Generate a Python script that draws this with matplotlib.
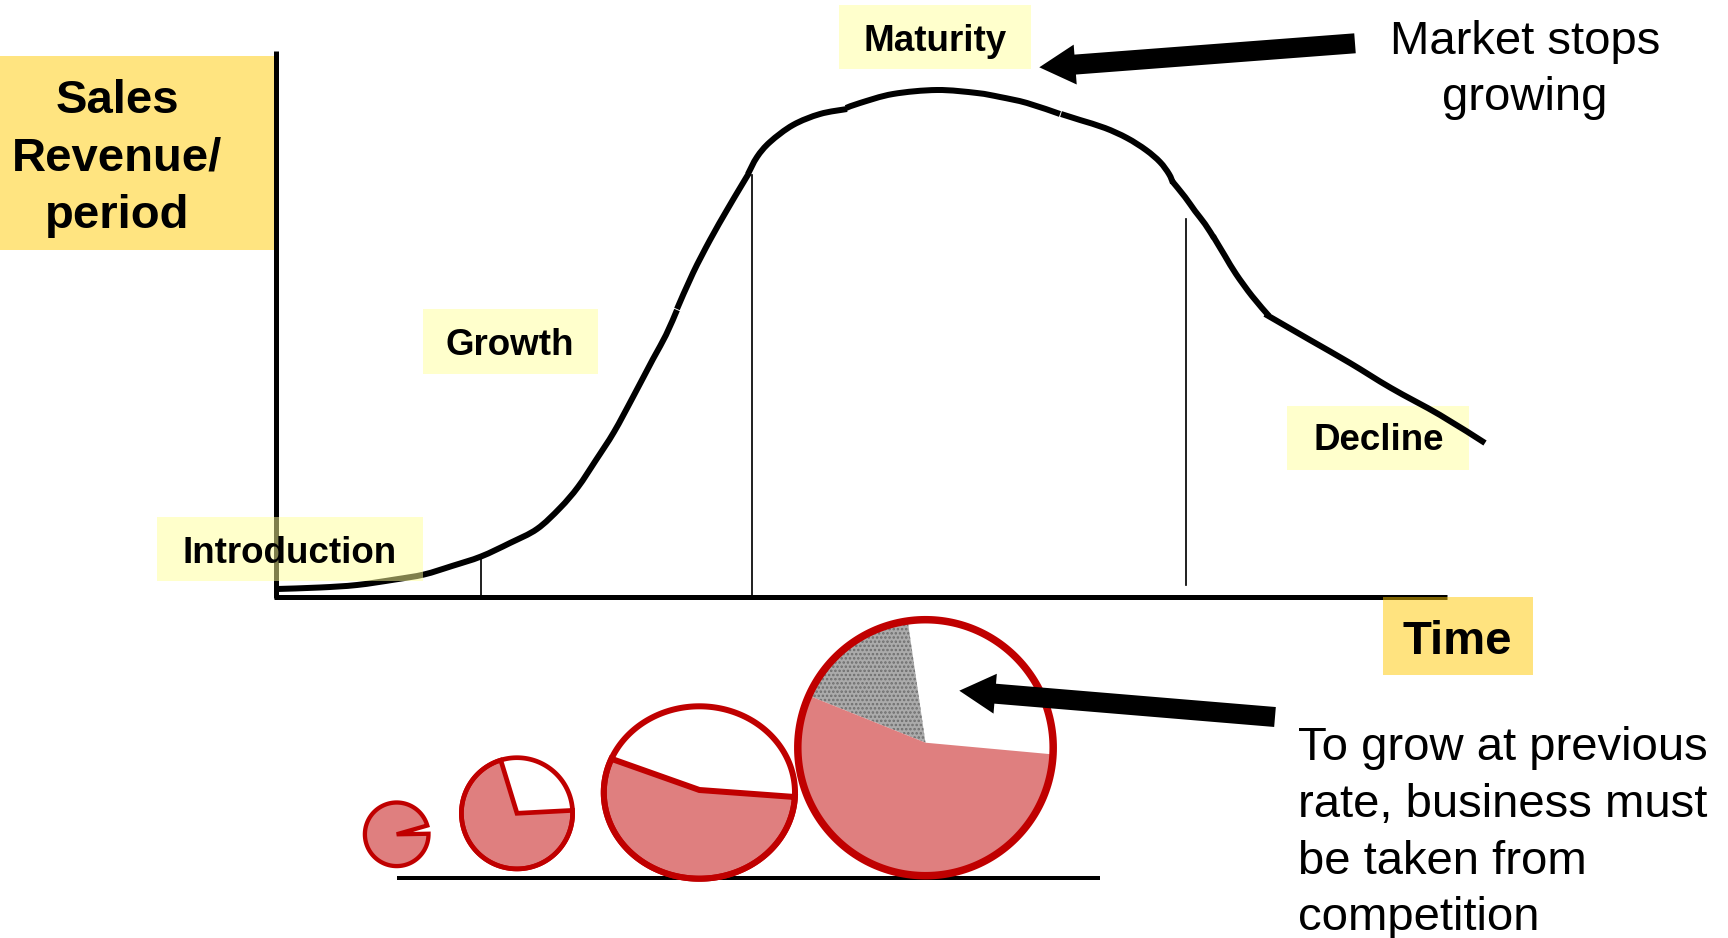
import matplotlib
matplotlib.use('Agg')
import matplotlib.pyplot as plt
from matplotlib.patches import Rectangle, Polygon, FancyArrow, PathPatch
from matplotlib.path import Path
import numpy as np

plt.rcParams['font.family'] = ['Liberation Sans', 'DejaVu Sans']
plt.rcParams['hatch.linewidth'] = 1.2

W, H = 1728, 938
PX = 0.72  # points per pixel at dpi 100

# product life cycle curve, drawn in pieces (pixel space of the slide)
curve_segments = [
    ([277, 320, 357, 395, 424, 452, 481, 510, 537, 560, 578, 596, 614, 633, 653, 666, 677],
     [589, 587.5, 585, 579.5, 574.5, 566, 556.5, 543, 529, 508, 487, 460, 432, 397, 359, 335, 310]),
    ([677, 693, 710, 727, 740, 749], [309, 273, 240, 210, 188, 173]),
    ([748, 757, 770, 793, 820, 847], [174, 157, 142, 125, 114, 109]),
    ([846, 860, 893, 937, 977, 1000, 1027, 1060], [108, 103, 94, 90, 93, 97, 103, 114]),
    ([1061, 1080, 1105, 1127, 1146, 1160, 1169, 1173], [114, 120, 128, 138, 150, 162, 174, 183]),
    ([1172, 1185, 1195, 1205, 1214], [181, 197, 211, 224, 238]),
    ([1213, 1225, 1236, 1252, 1269], [236, 256, 274, 296, 316]),
    ([1265, 1310, 1350, 1391, 1440, 1485], [314, 340, 363, 388, 415, 443]),
]

# stage dividers: x, top, bottom
divider_x = [480.5, 751.7, 1185.7]
divider_top = [556, 175, 219]
divider_bottom = [596, 596, 585]

# market share pies
pie_cx = [396.7, 517.0, 699.4, 925.5]
pie_cy = [834.3, 813.3, 792.5, 747.7]
pie_vy = [834.3, 813.3, 790.0, 742.7]   # wedge vertex
pie_rx = [31.8, 55.6, 95.6, 127.7]
pie_ry = [31.8, 55.6, 86.2, 128.0]
pie_lw = [4.3, 4.7, 6.0, 7.5]
red_start = [16, 107, 157, 156]
red_end = [361, 363, 357, 357]
gray_start, gray_end = 98, 156

stage_labels = ['Introduction', 'Growth', 'Maturity', 'Decline']

RED = '#C00000'
PINK = '#DF7F7F'
PALE = '#FFFFCC'
GOLD = '#FFE480'


def smooth_path(xs, ys):
    # Catmull-Rom through the points, as cubic Bezier pieces
    p = np.column_stack([xs, ys]).astype(float)
    ext = np.vstack([p[0], p, p[-1]])
    verts = [p[0]]
    codes = [Path.MOVETO]
    for k in range(1, len(ext) - 2):
        p0, p1, p2, p3 = ext[k - 1], ext[k], ext[k + 1], ext[k + 2]
        verts += [p1 + (p2 - p0) / 6, p2 - (p3 - p1) / 6, p2]
        codes += [Path.CURVE4] * 3
    return Path(verts, codes)


fig = plt.figure(figsize=(W / 100, H / 100), dpi=100)
ax = fig.add_axes([0, 0, 1, 1])
ax.set_xlim(0, W)
ax.set_ylim(H, 0)
ax.axis('off')

# opaque label boxes (behind the curve)
ax.add_patch(Rectangle((0, 56), 274, 194, color=GOLD, lw=0, zorder=1))
ax.add_patch(Rectangle((423, 309), 175, 65, color=PALE, lw=0, zorder=1))
ax.add_patch(Rectangle((839, 5.5), 192, 64, color=PALE, lw=0, zorder=1))
ax.add_patch(Rectangle((1287, 405.6), 182, 64, color=PALE, lw=0, zorder=1))

# axes
ax.plot([275.7, 275.7], [50.6, 598], color='black', lw=5 * PX, solid_capstyle='butt', zorder=2)
ax.plot([273.5, 1447], [597, 597], color='black', lw=5 * PX, solid_capstyle='butt', zorder=2)

for xs, ys in curve_segments:
    ax.add_patch(PathPatch(smooth_path(xs, ys), fill=False, edgecolor='black',
                           lw=6 * PX, capstyle='butt', zorder=3))

for x, t, b in zip(divider_x, divider_top, divider_bottom):
    ax.plot([x, x], [t, b], color='black', lw=1.7 * PX, zorder=2)

# translucent boxes laid over the axis / curve
ax.add_patch(Rectangle((157, 517), 266, 64, facecolor=(1, 1, 0.6), alpha=0.5, lw=0, zorder=4))
ax.add_patch(Rectangle((1383, 597), 150, 78, facecolor=(1, 0.79, 0), alpha=0.5, lw=0, zorder=4))

# texts
bold = dict(fontweight='bold', color='black', zorder=6)
for line, yb in zip(['Sales', 'Revenue/', 'period'], [112.6, 170.8, 227.5]):
    ax.text(117, yb, line, fontsize=34, ha='center', va='baseline', **bold)
ax.text(1457.5, 654, 'Time', fontsize=34, ha='center', va='baseline', **bold)

label_pos = [(289.3, 563), (510, 355), (935.5, 51.3), (1378.6, 450)]
for lab, (x, y) in zip(stage_labels, label_pos):
    ax.text(x, y, lab, fontsize=26.5, ha='center', va='baseline', **bold)

for line, yb in zip(['Market stops', 'growing'], [54.5, 110]):
    ax.text(1525, yb, line, fontsize=34, ha='center', va='baseline', color='black', zorder=6)

note = ['To grow at previous', 'rate, business must', 'be taken from', 'competition']
for line, yb in zip(note, [760, 816.7, 874, 930.5]):
    ax.text(1298, yb, line, fontsize=34, ha='left', va='baseline', color='black', zorder=6)

# arrows
for (tx, ty), (hx, hy) in [((1355, 43.3), (1039.3, 67.3)), ((1275, 717), (959.3, 690.7))]:
    ax.add_patch(FancyArrow(tx, ty, hx - tx, hy - ty, width=20, head_width=40,
                            head_length=36, length_includes_head=True,
                            color='black', lw=0, zorder=7))

# baseline under the pies
ax.plot([396.7, 1100], [878, 878], color='black', lw=4 * PX, solid_capstyle='butt', zorder=2)


def arc(cx, cy, rx, ry, a0, a1, n=120):
    t = np.radians(np.linspace(a0, a1, n))
    return np.column_stack([cx + rx * np.cos(t), cy - ry * np.sin(t)])


def wedge(i, a0, a1):
    pts = arc(pie_cx[i], pie_cy[i], pie_rx[i], pie_ry[i], a0, a1)
    return np.vstack([[pie_cx[i], pie_vy[i]], pts])


for i in range(4):
    lw = pie_lw[i] * PX
    if i == 0:
        ax.add_patch(Polygon(wedge(i, red_start[i], red_end[i]), closed=True,
                             facecolor=PINK, edgecolor=RED, lw=lw, zorder=5))
        continue
    if i == 3:
        ax.add_patch(Polygon(wedge(i, gray_start, gray_end), closed=True,
                             facecolor='#ABABAB', edgecolor='#6E6E6E', hatch='....',
                             lw=0, zorder=5))
        ax.add_patch(Polygon(wedge(i, red_start[i], red_end[i]), closed=True,
                             facecolor=PINK, lw=0, zorder=5))
    else:
        ax.add_patch(Polygon(wedge(i, red_start[i], red_end[i]), closed=True,
                             facecolor=PINK, edgecolor=RED, lw=lw, zorder=5))
    ring = arc(pie_cx[i], pie_cy[i], pie_rx[i], pie_ry[i], 0, 360, 240)
    ax.add_patch(Polygon(ring, closed=True, fill=False, edgecolor=RED, lw=lw, zorder=5))

fig.savefig('out.png', dpi=100, facecolor='white')
plt.close(fig)
